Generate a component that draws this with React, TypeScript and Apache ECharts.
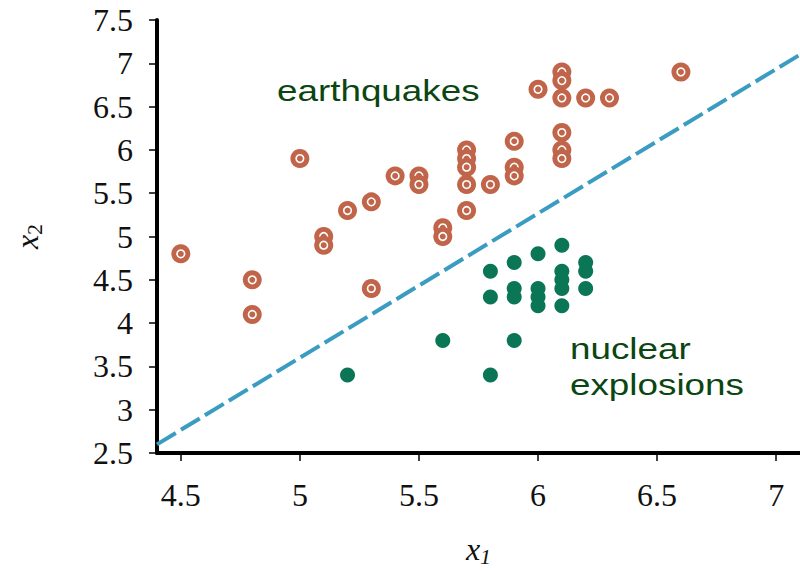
import React, { useEffect, useRef } from "react";
import * as echarts from "echarts";

// Earthquakes (x1, x2)
const earthquakeX1 = [4.5, 4.8, 4.8, 5.0, 5.1, 5.1, 5.2, 5.3, 5.3, 5.4, 5.5, 5.5, 5.6, 5.6, 5.7, 5.7, 5.7, 5.7, 5.7, 5.8, 5.9, 5.9, 5.9, 6.0, 6.1, 6.1, 6.1, 6.1, 6.1, 6.1, 6.2, 6.3, 6.6];
const earthquakeX2 = [4.8, 4.5, 4.1, 5.9, 5.0, 4.9, 5.3, 5.4, 4.4, 5.7, 5.7, 5.6, 5.1, 5.0, 6.0, 5.9, 5.8, 5.6, 5.3, 5.6, 6.1, 5.8, 5.7, 6.7, 6.9, 6.8, 6.6, 6.2, 6.0, 5.9, 6.6, 6.6, 6.9];

// Nuclear explosions (x1, x2)
const nuclearX1 = [5.2, 5.6, 5.8, 5.8, 5.8, 5.9, 5.9, 5.9, 5.9, 6.0, 6.0, 6.0, 6.0, 6.1, 6.1, 6.1, 6.1, 6.1, 6.2, 6.2, 6.2];
const nuclearX2 = [3.4, 3.8, 3.4, 4.6, 4.3, 4.7, 4.4, 4.3, 3.8, 4.8, 4.4, 4.3, 4.2, 4.9, 4.6, 4.5, 4.4, 4.2, 4.7, 4.6, 4.4];

// Linear decision boundary
const boundaryX1 = [4.4, 7.1];
const boundaryX2 = [2.6, 7.1];

const xTicks = [4.5, 5, 5.5, 6, 6.5, 7];

export default function App() {
  const ref = useRef<HTMLDivElement>(null);

  useEffect(() => {
    document.body.style.margin = "0";
    const chart = echarts.init(ref.current!, null, { renderer: "svg" });

    const eqData = earthquakeX1.map((x, i) => [x, earthquakeX2[i]]);
    const nuData = nuclearX1.map((x, i) => [x, nuclearX2[i]]);
    const lineData = boundaryX1.map((x, i) => [x, boundaryX2[i]]);

    const serif = "Liberation Serif";
    const sans = "Liberation Sans";

    chart.setOption({
      animation: false,
      backgroundColor: "#ffffff",
      grid: { left: 157, right: 0, top: 20, bottom: 119, containLabel: false },
      xAxis: {
        type: "value",
        min: 4.4,
        max: 7.1,
        splitLine: { show: false },
        axisLine: { onZero: false, lineStyle: { color: "#000", width: 4 } },
        axisTick: { show: true, length: 8, lineStyle: { color: "#000", width: 1.5 }, customValues: xTicks },
        axisLabel: {
          color: "#111",
          fontFamily: serif,
          fontSize: 32,
          margin: 26,
          customValues: xTicks,
        },
        name: "{i|x}{s|1}",
        nameLocation: "middle",
        nameGap: 78,
        nameTextStyle: {
          rich: {
            i: { fontFamily: serif, fontStyle: "italic", fontSize: 32, lineHeight: 36, color: "#111" },
            s: { fontFamily: serif, fontStyle: "italic", fontSize: 22, lineHeight: 22, verticalAlign: "bottom", color: "#111" },
          },
        },
      },
      yAxis: {
        type: "value",
        min: 2.5,
        max: 7.5,
        interval: 0.5,
        splitLine: { show: false },
        axisLine: { show: true, onZero: false, lineStyle: { color: "#000", width: 4 } },
        axisTick: { show: true, length: 8, lineStyle: { color: "#000", width: 1.5 } },
        axisLabel: {
          color: "#111",
          fontFamily: serif,
          fontSize: 32,
          margin: 24,
        },
        name: "{i|x}{s|2}",
        nameLocation: "middle",
        nameRotate: 90,
        nameGap: 112,
        nameTextStyle: {
          rich: {
            i: { fontFamily: serif, fontStyle: "italic", fontSize: 32, lineHeight: 36, color: "#111" },
            s: { fontFamily: serif, fontSize: 22, lineHeight: 22, verticalAlign: "bottom", color: "#111" },
          },
        },
      },
      graphic: [
        {
          type: "text",
          x: 277,
          y: 91,
          scaleX: 1.27,
          style: {
            text: "earthquakes",
            fill: "#0b4612",
            font: `29px ${sans}`,
            textAlign: "left",
            textVerticalAlign: "middle",
          },
        },
        {
          type: "text",
          x: 570,
          y: 367,
          scaleX: 1.27,
          style: {
            text: "nuclear\nexplosions",
            fill: "#0b4612",
            font: `29px ${sans}`,
            lineHeight: 36,
            textAlign: "left",
            textVerticalAlign: "middle",
          },
        },
      ],
      series: [
        {
          type: "line",
          data: lineData,
          symbol: "none",
          z: 1,
          lineStyle: { color: "#3a9cc0", width: 4, type: [22, 6] },
        },
        {
          type: "custom",
          data: eqData,
          encode: { x: 0, y: 1 },
          z: 3,
          renderItem: (params: any, api: any) => {
            const p = api.coord([api.value(0), api.value(1)]);
            return {
              type: "group",
              children: [
                { type: "circle", shape: { cx: p[0], cy: p[1], r: 9.5 }, style: { fill: "#c0654a" } },
                {
                  type: "circle",
                  shape: { cx: p[0], cy: p[1], r: 3.8 },
                  style: { fill: "none", stroke: "#ffffff", lineWidth: 1.6 },
                },
              ],
            };
          },
        },
        {
          type: "scatter",
          data: nuData,
          symbol: "circle",
          symbolSize: 15,
          z: 3,
          itemStyle: { color: "#0b7656", opacity: 1 },
        },
      ],
    });

    return () => chart.dispose();
  }, []);

  return <div ref={ref} style={{ width: 800, height: 572 }} />;
}
